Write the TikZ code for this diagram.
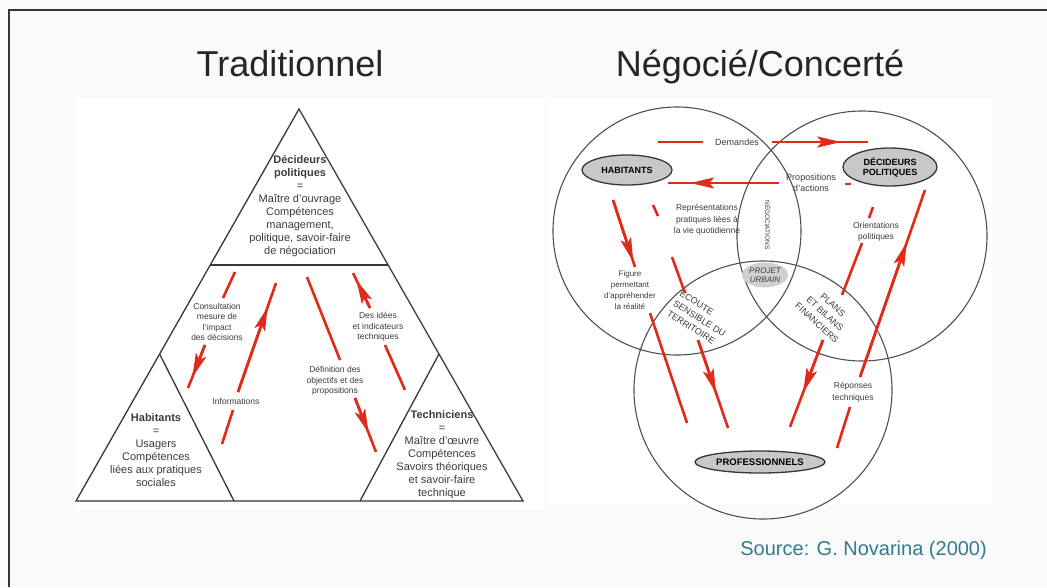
\documentclass[tikz,border=0pt]{standalone}
\usepackage{fontspec}
\setmainfont{Liberation Sans}
\usetikzlibrary{arrows.meta,calc,shapes.geometric}
\definecolor{arrred}{RGB}{224,42,26}
\definecolor{linegray}{RGB}{55,55,55}
\definecolor{circgray}{RGB}{80,80,80}
\definecolor{srcteal}{RGB}{52,122,145}
\definecolor{ellfill}{RGB}{200,200,200}
\definecolor{txtgray}{RGB}{60,60,60}
\definecolor{pagebg}{RGB}{250,250,250}
\begin{document}
\begin{tikzpicture}[x=1pt,y=-1pt,
  redseg/.style={draw=arrred,line width=2.6pt},
  redtip/.style={draw=arrred,fill=arrred,line width=2.6pt,-{Stealth[length=24pt,width=11pt,inset=5pt]}},
  triline/.style={draw=linegray,line width=1.3pt},
  circ/.style={circle,draw=circgray,line width=1.1pt,inner sep=0pt},
  lbl/.style={font=\fontsize{8.5}{10.5}\selectfont,text=txtgray,align=center,inner sep=0pt},
  rlbl/.style={font=\fontsize{8.5}{11.5}\selectfont,text=txtgray,align=center,inner sep=0pt},
  tritxt/.style={font=\fontsize{11}{13}\selectfont,text=txtgray,align=center,inner sep=0pt},
  ell/.style={ellipse,draw=linegray,line width=1.3pt,fill=ellfill,inner sep=0pt,font=\bfseries\fontsize{9}{10}\selectfont,align=center},
  caps/.style={font=\fontsize{9}{12}\selectfont,text=txtgray,align=center,inner sep=0pt},
  title/.style={anchor=base,font=\fontsize{36}{40}\selectfont,text=black!85}
]
\useasboundingbox (0,0) rectangle (1047,587);
\fill[pagebg] (0,0) rectangle (1047,587);
\fill[white] (75,98) rectangle (545,510);
\fill[white] (548,98) rectangle (992,505);
\draw[linegray,line width=1.3pt] (1047,10) -- (9,10) -- (9,587);

% titles
\node[title] (t1) at (290,76) {Traditionnel};
\node[title] (t2) at (760,76) {Négocié/Concerté};

% ---------------- left: triangle ----------------
\coordinate (A) at (299,109);
\coordinate (B) at (76,501);
\coordinate (C) at (523,501);
\coordinate (H1) at (210.3,265);
\coordinate (H2) at (388.1,265);
\coordinate (LA) at (159.6,354);
\coordinate (LB) at (234,501);
\coordinate (RA) at (439,354);
\coordinate (RB) at (360,501);
\draw[triline] (A) -- (B) -- (C) -- cycle;
\draw[triline] (H1) -- (H2);
\draw[triline] (LA) -- (LB);
\draw[triline] (RA) -- (RB);

\node[tritxt] (dectxt) at (300,206) {\textbf{Décideurs}\\\textbf{politiques}\\=\\Maître d'ouvrage\\Compétences\\management,\\politique, savoir-faire\\de négociation};
\node[tritxt] (habtxt) at (156,450) {\textbf{Habitants}\\=\\Usagers\\Compétences\\liées aux pratiques\\sociales};
\node[tritxt] (techtxt) at (442,455) {\textbf{Techniciens}\\=\\Maître d'œuvre\\Compétences\\Savoirs théoriques\\et savoir-faire\\technique};

% left arrows
\coordinate (l1a) at (235,272); \coordinate (l1b) at (223,298);
\coordinate (l1c) at (205,345); \coordinate (l1d) at (188,388);
\draw[redseg] (l1a) -- (l1b);
\draw[redseg] (l1c) -- (l1d);
\draw[redtip] (l1c) -- ($(l1c)!0.75!(l1d)$);
\node[lbl] (l1lab) at (217,322) {Consultation\\mesure de\\l'impact\\des décisions};

\coordinate (l2a) at (222,444); \coordinate (l2b) at (233,410);
\coordinate (l2c) at (238,392); \coordinate (l2d) at (276,283);
\draw[redseg] (l2a) -- (l2b);
\draw[redseg] (l2c) -- (l2d);
\draw[redtip] (l2c) -- ($(l2c)!0.78!(l2d)$);
\node[lbl] (l2lab) at (236,401) {Informations};

\coordinate (l3a) at (307,277); \coordinate (l3b) at (340,360);
\coordinate (l3c) at (355,398); \coordinate (l3d) at (376,452);
\draw[redseg] (l3a) -- (l3b);
\draw[redseg] (l3c) -- (l3d);
\draw[redtip] (l3c) -- ($(l3c)!0.65!(l3d)$);
\node[lbl] (l3lab) at (335,381) {Définition des\\objectifs et des\\propositions};

\coordinate (l4a) at (405,390); \coordinate (l4b) at (385,345);
\coordinate (l4c) at (370,308); \coordinate (l4d) at (353,273);
\draw[redseg] (l4a) -- (l4b);
\draw[redseg] (l4c) -- (l4d);
\draw[redtip] (l4c) -- ($(l4c)!0.8!(l4d)$);
\node[lbl] (l4lab) at (378,327) {Des idées\\et indicateurs\\techniques};

% ---------------- right: circles ----------------
\node[circ,minimum size=248pt] (chab) at (677,231) {};
\node[circ,minimum size=250pt] (cdec) at (862,236) {};
\node[circ,minimum size=258pt] (cpro) at (763,390) {};

\node[ell,minimum width=90pt,minimum height=30pt] (hab) at (627,170) {HABITANTS};
\node[ell,minimum width=94pt,minimum height=38pt] (dec) at (890,167) {DÉCIDEURS\\POLITIQUES};
\node[ell,minimum width=130pt,minimum height=22pt,font=\bfseries\fontsize{9.5}{10}\selectfont] (pro) at (760,462) {PROFESSIONNELS};
\node[ellipse,fill=ellfill!85,draw=none,inner sep=0pt,minimum width=46pt,minimum height=25pt,align=center,font=\itshape\fontsize{8}{9.5}\selectfont,text=txtgray] (pu) at (765,275) {PROJET\\URBAIN};

\node[caps,rotate=-32,align=left] (ecoute) at (700,318) {ÉCOUTE\\SENSIBLE DU\\TERRITOIRE};
\node[caps,rotate=-42] (plans) at (825,314) {PLANS\\ET BILANS\\FINANCIERS};
\node[caps,rotate=-90,font=\fontsize{6.5}{7}\selectfont] (vt) at (768,225) {NÉGOCIATIONS};

% right arrows
\coordinate (r1a) at (658,142); \coordinate (r1b) at (703,142);
\coordinate (r1c) at (772,142); \coordinate (r1d) at (868,142);
\draw[redseg] (r1a) -- (r1b);
\draw[redseg] (r1c) -- (r1d);
\draw[redtip] (r1c) -- ($(r1c)!0.72!(r1d)$);
\node[rlbl,font=\fontsize{9}{11}\selectfont] (r1lab) at (737,142) {Demandes};

\coordinate (r2a) at (851,184); \coordinate (r2b) at (845,184);
\coordinate (r2c) at (779,183); \coordinate (r2d) at (668,183);
\draw[redseg] (r2a) -- (r2b);
\draw[redseg] (r2c) -- (r2d);
\draw[redtip] (r2c) -- ($(r2c)!0.8!(r2d)$);
\node[rlbl,font=\fontsize{9}{11.5}\selectfont] (r2lab) at (811,183) {Propositions\\d'actions};

\coordinate (r3a) at (653,205); \coordinate (r3b) at (658,216);
\coordinate (r3c) at (672,257); \coordinate (r3d) at (685,293);
\coordinate (r3e) at (698,340); \coordinate (r3f) at (728,428);
\draw[redseg] (r3a) -- (r3b);
\draw[redseg] (r3c) -- (r3d);
\draw[redseg] (r3e) -- (r3f);
\draw[redtip] (r3e) -- ($(r3e)!0.6!(r3f)$);
\node[rlbl] (r3lab) at (707,220) {Représentations\\pratiques liées à\\la vie quotidienne};

\coordinate (r4a) at (613,200); \coordinate (r4b) at (635,267);
\coordinate (r4c) at (650,313); \coordinate (r4d) at (687,423);
\draw[redseg] (r4a) -- (r4b);
\draw[redtip] (r4a) -- ($(r4a)!0.92!(r4b)$);
\draw[redseg] (r4c) -- (r4d);
\node[rlbl,font=\fontsize{8}{11}\selectfont] (r4lab) at (630,290) {Figure\\permettant\\d'appréhender\\la réalité};

\coordinate (r5a) at (873,207); \coordinate (r5b) at (869,218);
\coordinate (r5c) at (862,243); \coordinate (r5d) at (842,295);
\coordinate (r5e) at (823,340); \coordinate (r5f) at (790,427);
\draw[redseg] (r5a) -- (r5b);
\draw[redseg] (r5c) -- (r5d);
\draw[redseg] (r5e) -- (r5f);
\draw[redtip] (r5e) -- ($(r5e)!0.6!(r5f)$);
\node[rlbl] (r5lab) at (876,232) {Orientations\\politiques};

\coordinate (r6a) at (837,448); \coordinate (r6b) at (850,407);
\coordinate (r6c) at (860,377); \coordinate (r6d) at (925,190);
\draw[redseg] (r6a) -- (r6b);
\draw[redseg] (r6c) -- (r6d);
\draw[redtip] (r6c) -- ($(r6c)!0.72!(r6d)$);
\node[rlbl] (r6lab) at (853,392) {Réponses\\techniques};

% source
\node[anchor=base east,font=\fontsize{20}{24}\selectfont,text=srcteal,inner sep=0pt] (src) at (987,555) {Source: G. Novarina (2000)};
\end{tikzpicture}
\end{document}
